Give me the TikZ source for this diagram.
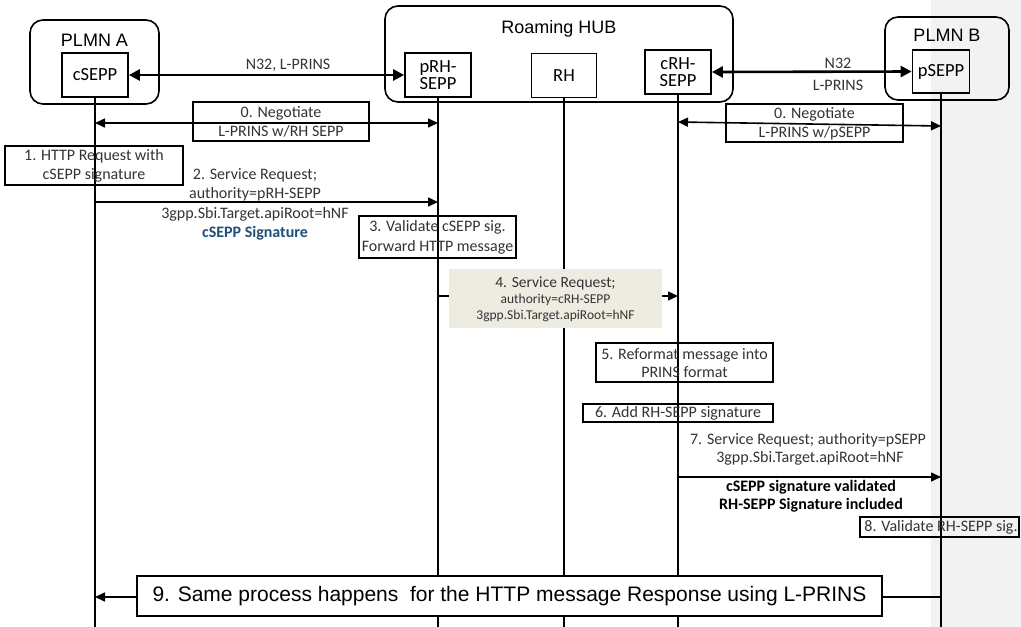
\documentclass[tikz,border=0pt]{standalone}
\usepackage{fontspec}
\setmainfont{Carlito}
\newfontfamily\arial{Liberation Sans}
\usetikzlibrary{arrows.meta}
\definecolor{txt}{HTML}{333333}
\definecolor{sigblue}{HTML}{1F4E79}
\definecolor{beige}{HTML}{EEECE1}
\definecolor{bggray}{HTML}{F2F2F2}
\begin{document}
\begin{tikzpicture}[x=1pt,y=-1pt,
  grp/.style={draw, line width=1.6pt, rounded corners=13pt},
  grptitle/.style={font=\arial\fontsize{18}{20}\selectfont, inner sep=0},
  ent/.style={draw, line width=1.7pt, font=\fontsize{18.5}{17}\selectfont, align=center, inner sep=0},
  life/.style={line width=1.8pt},
  note/.style={draw, line width=1.6pt, inner sep=0},
  lbl/.style={font=\fontsize{16}{18}\selectfont, text=txt, inner sep=0},
  slbl/.style={font=\fontsize{13.5}{15}\selectfont, text=txt, inner sep=0},
  msg/.style={line width=1.6pt, -{Triangle[length=10pt,width=9pt]}},
  dmsg/.style={line width=1.6pt, {Triangle[length=10pt,width=9pt]}-{Triangle[length=10pt,width=9pt]}},
  n32/.style={line width=2.6pt, {Triangle[length=11pt,width=11pt]}-{Triangle[length=11pt,width=11pt]}}
]
\useasboundingbox (0,0) rectangle (1021,627);
\fill[bggray] (931,0) rectangle (1021,627);

% groups
\draw[grp] (30,20) rectangle (159,104);
\node[grptitle] (tA) at (94.5,40) {PLMN A};
\draw[grp] (385,6) rectangle (733,102);
\node[grptitle] (tH) at (559,29) {Roaming HUB};
\draw[grp] (885,17) rectangle (1009,100);
\node[grptitle] (tB) at (947,35) {PLMN B};

% entities
\node[ent, minimum width=66pt, minimum height=44pt] (cS) at (95,75) {cSEPP};
\node[ent, minimum width=66pt, minimum height=44pt] (pRH) at (438,75) {pRH-\\SEPP};
\node[ent, minimum width=65pt, minimum height=44pt] (RH) at (564,75.5) {RH};
\node[ent, minimum width=66pt, minimum height=44pt] (cRH) at (678,72) {cRH-\\SEPP};
\node[ent, minimum width=57pt, minimum height=43pt] (pS) at (941,71.5) {pSEPP};

% lifelines
\coordinate (bot) at (0,627);
\draw[life] (cS.south) -- (cS.south |- bot);
\draw[life] (pRH.south) -- (pRH.south |- bot);
\draw[life] (RH.south) -- (RH.south |- bot);
\draw[life] (cRH.south) -- (cRH.south |- bot);
\draw[life] (pS.south) -- (pS.south |- bot);

% N32 links
\draw[n32] (cS.east) -- (pRH.west);
\node[lbl] (n32a) at (288,65) {N32, L-PRINS};
\draw[n32] (cRH.east) -- (pS.west);
\node[lbl] (n32b) at (838,63) {N32};
\node[lbl] (n32c) at (838,85) {L-PRINS};

% step 0
\node[note, minimum width=176pt, minimum height=39pt] (s0a) at (281,121.5) {};
\node[lbl] at (281,113) {0. Negotiate};
\node[lbl] at (281,131) {L-PRINS w/RH SEPP};
\coordinate (y0a) at (0,123);
\draw[dmsg] (cS |- y0a) -- (pRH |- y0a);

\node[note, minimum width=177pt, minimum height=38pt] (s0b) at (814.5,123) {};
\node[lbl] at (814.5,114) {0. Negotiate};
\node[lbl] at (814.5,133) {L-PRINS w/pSEPP};
\coordinate (y0b) at (0,122);
\coordinate (y0c) at (0,126);
\draw[dmsg] (cRH |- y0b) -- (pS |- y0c);

% step 1
\node[note, minimum width=178pt, minimum height=39pt] (s1) at (94,165.5) {};
\node[lbl] at (94,156) {1. HTTP Request with};
\node[lbl] at (94,175) {cSEPP signature};

% step 2
\coordinate (y2) at (0,202);
\draw[msg] (cS |- y2) -- (pRH |- y2);
\node[lbl] at (255,175) {2. Service Request;};
\node[lbl] at (255,194) {authority=pRH-SEPP};
\node[lbl] at (255,214) {3gpp.Sbi.Target.apiRoot=hNF};
\node[lbl, text=sigblue, font=\bfseries\fontsize{16}{18}\selectfont] at (255,233) {cSEPP Signature};

% step 3
\node[note, minimum width=157pt, minimum height=42pt] (s3) at (437.5,237) {};
\node[lbl] at (437.5,227) {3. Validate cSEPP sig.};
\node[lbl] at (437.5,247) {Forward HTTP message};

% step 4
\coordinate (y4) at (0,296);
\draw[msg] (pRH |- y4) -- (cRH |- y4);
\node[fill=beige, minimum width=213pt, minimum height=59pt, inner sep=0] (s4) at (555.5,298.5) {};
\node[lbl, font=\fontsize{15.5}{17}\selectfont] at (555.5,283) {4. Service Request;};
\node[slbl] at (555.5,299.5) {authority=cRH-SEPP};
\node[slbl] at (555.5,316) {3gpp.Sbi.Target.apiRoot=hNF};

% step 5
\node[note, minimum width=177pt, minimum height=39pt] (s5) at (684.5,362.5) {};
\node[lbl] at (684.5,355) {5. Reformat message into};
\node[lbl] at (684.5,372) {PRINS format};

% step 6
\node[note, minimum width=190pt, minimum height=18pt] (s6) at (678,413) {};
\node[lbl] at (678,413) {6. Add RH-SEPP signature};

% step 7
\coordinate (y7) at (0,477);
\draw[msg] (cRH |- y7) -- (pS |- y7);
\node[lbl] at (808,440) {7. Service Request; authority=pSEPP};
\node[lbl] at (810,458) {3gpp.Sbi.Target.apiRoot=hNF};
\node[lbl, text=black, font=\bfseries\fontsize{16}{18}\selectfont] at (811,487) {cSEPP signature validated};
\node[lbl, text=black, font=\bfseries\fontsize{16}{18}\selectfont] at (811,505) {RH-SEPP Signature included};

% step 8
\node[note, minimum width=159pt, minimum height=20pt] (s8) at (939.5,527) {};
\node[lbl] at (941,527) {8. Validate RH-SEPP sig.};

% step 9
\coordinate (y9) at (0,597);
\draw[msg] (pS |- y9) -- (cS |- y9);
\node[note, fill=white, minimum width=745pt, minimum height=40pt] (s9) at (509.5,596) {};
\node[font=\arial\fontsize{21}{23}\selectfont, inner sep=0] at (509.5,596) {9. Same process happens\ \ for the HTTP message Response using L-PRINS};
\end{tikzpicture}
\end{document}
